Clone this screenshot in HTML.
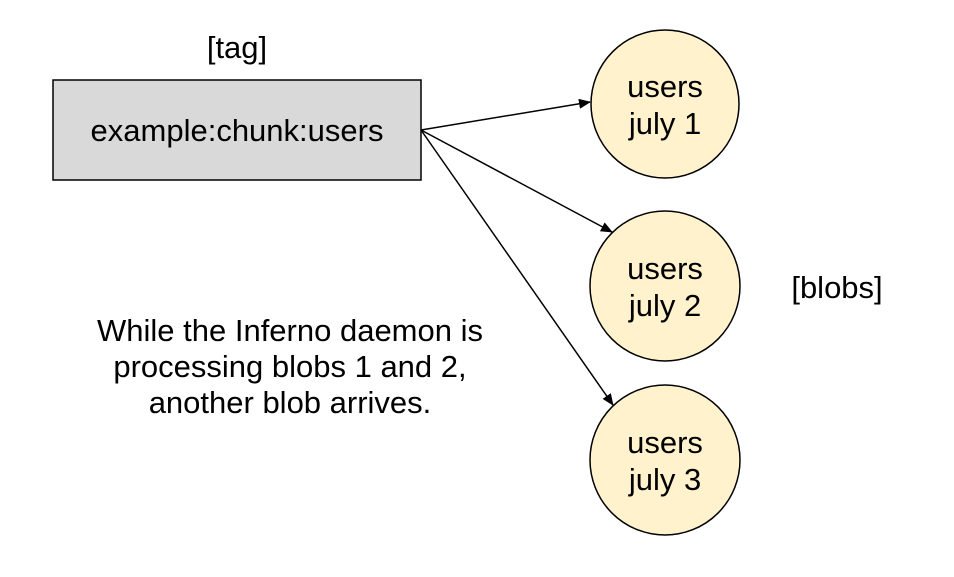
<!DOCTYPE html>
<html><head><meta charset="utf-8"><style>
html,body{margin:0;padding:0;background:#fff;}
svg{display:block;}
text{font-family:"Liberation Sans",Arial,sans-serif;fill:#000;}
</style></head><body>
<svg width="954" height="577" viewBox="0 0 954 577" xmlns="http://www.w3.org/2000/svg">
<defs><marker id="a" markerWidth="12" markerHeight="10" refX="11" refY="5" orient="auto" markerUnits="userSpaceOnUse"><path d="M0,0 L12,5 L0,10 z" fill="#000"/></marker></defs>
<text x="237" y="58" font-size="31" text-anchor="middle">[tag]</text>
<rect x="53" y="80" width="368" height="100" fill="#d9d9d9" stroke="#000" stroke-width="1.5"/>
<text x="237" y="141" font-size="31" text-anchor="middle">example:chunk:users</text>
<line x1="421" y1="130" x2="590" y2="102" stroke="#000" stroke-width="1.5" marker-end="url(#a)"/>
<line x1="421" y1="130" x2="612" y2="232" stroke="#000" stroke-width="1.5" marker-end="url(#a)"/>
<line x1="421" y1="130" x2="613" y2="405" stroke="#000" stroke-width="1.5" marker-end="url(#a)"/>
<g fill="#fff2cc" stroke="#000" stroke-width="1.5">
<circle cx="665" cy="104" r="74"/>
<circle cx="665" cy="286" r="75"/>
<circle cx="665" cy="460" r="75"/>
</g>
<g font-size="31" text-anchor="middle">
<text x="665" y="97">users</text><text x="665" y="134">july 1</text>
<text x="665" y="279">users</text><text x="665" y="316">july 2</text>
<text x="665" y="453">users</text><text x="665" y="490">july 3</text>
</g>
<text x="837" y="298" font-size="31" text-anchor="middle">[blobs]</text>
<g font-size="31" text-anchor="middle">
<text x="290" y="341">While the Inferno daemon is</text>
<text x="290" y="377">processing blobs 1 and 2,</text>
<text x="290" y="413">another blob arrives.</text>
</g>
</svg>
</body></html>
